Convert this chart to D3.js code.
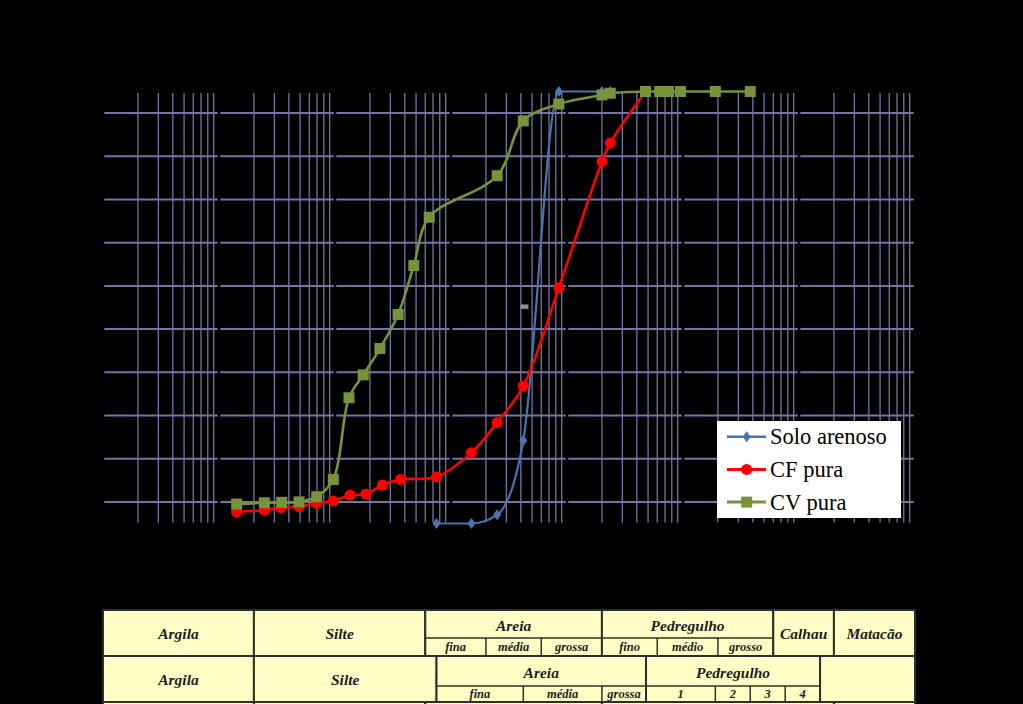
<!DOCTYPE html>
<html>
<head>
<meta charset="utf-8">
<script src="https://cdn.jsdelivr.net/npm/d3@7/dist/d3.min.js"></script>
<style>
  body { margin: 0; background: #000; }
  svg { display: block; }
</style>
</head>
<body>
<div id="chart"></div>
<script>
// ----------- data: grain size (mm) vs percent passing ------------
const soloSizes = [0.075, 0.15, 0.25, 0.42, 0.85, 2.0, 2.36];
const soloPass  = [0, 0, 2.0, 19.2, 100, 100, 100];

const cfSizes = [0.00142, 0.00246, 0.00342, 0.0049, 0.00695, 0.00967, 0.0135, 0.0184, 0.0256, 0.0368,
                 0.075, 0.15, 0.25, 0.42, 0.85, 2.0, 2.36, 4.75];
const cfPass  = [2.7, 3.1, 3.7, 3.9, 4.7, 5.2, 6.6, 6.8, 8.9, 10.2,
                 10.8, 16.4, 23.4, 31.8, 54.6, 83.8, 88.1, 100];

const cvSizes = [0.00142, 0.00246, 0.00347, 0.0049, 0.00695, 0.00967, 0.0132, 0.0175, 0.0244, 0.035, 0.0478, 0.0649,
                 0.25, 0.42, 0.85, 2.0, 2.36, 4.75, 6.3, 7.5, 9.5, 19, 38];
const cvPass  = [4.5, 4.8, 4.9, 5.0, 6.2, 10.2, 29.1, 34.4, 40.5, 48.4, 59.7, 70.9,
                 80.5, 93.2, 97.1, 99.2, 99.6, 100, 100, 100, 100, 100, 100];

const seriesNames = ["Solo arenoso", "CF pura", "CV pura"];

// grid ticks
const decades = [1e-4, 1e-3, 1e-2, 1e-1, 1, 10, 100, 1000];
const minorMult = [2, 3, 4, 5, 6, 7, 8, 9];
const yGrid = [5, 15, 25, 35, 45, 55, 65, 75, 85, 95];

// classification tables (bounds in mm)
const row1Labels = ["Argila", "Silte", "Areia", "Pedregulho", "Calhau", "Matacão"];
const row1Bounds = [0.0001, 0.002, 0.06, 2, 60, 200, 1000];
const areia1Labels = ["fina", "média", "grossa"];
const areia1Bounds = [0.06, 0.2, 0.6, 2];
const pedr1Labels = ["fino", "médio", "grosso"];
const pedr1Bounds = [2, 6, 20, 60];

const row2Labels = ["Argila", "Silte", "Areia", "Pedregulho", ""];
const row2Bounds = [0.0001, 0.002, 0.075, 4.8, 152, 1000];
const areia2Labels = ["fina", "média", "grossa"];
const areia2Bounds = [0.075, 0.42, 2.0, 4.8];
const pedr2Labels = ["1", "2", "3", "4"];
const pedr2Bounds = [4.8, 19, 38, 76, 152];

const row3Bounds = [0.0001, 0.002, 0.06, 2, 200, 1000];

// ----------- setup ------------
const width = 1023;
const height = 704;

const svg = d3.select("#chart")
  .append("svg")
  .attr("width", width)
  .attr("height", height);

svg.append("rect").attr("width", width).attr("height", height).attr("fill", "#000");

const x = d3.scaleLog().domain([1e-4, 1e3]).range([103, 915]);
const y = d3.scaleLinear().domain([0, 100]).range([523.5, 91.5]);

const gridColor = "#7474a8";
const plotTop = 93;
const plotBottom = 522.5;

// horizontal grid
svg.append("g")
  .selectAll("line")
  .data(yGrid)
  .join("line")
  .attr("x1", x(1e-4) + 1)
  .attr("x2", x(1e3))
  .attr("y1", d => y(d))
  .attr("y2", d => y(d))
  .attr("stroke", gridColor)
  .attr("stroke-width", 2);

// minor vertical grid
const minorTicks = [];
decades.slice(0, -1).forEach(dec => minorMult.forEach(m => minorTicks.push(m * dec)));

svg.append("g")
  .selectAll("line")
  .data(minorTicks)
  .join("line")
  .attr("x1", d => x(d))
  .attr("x2", d => x(d))
  .attr("y1", plotTop)
  .attr("y2", plotBottom)
  .attr("stroke", gridColor)
  .attr("stroke-width", 1.3);

// major vertical grid (black, cuts the horizontal lines)
svg.append("g")
  .selectAll("line")
  .data(decades)
  .join("line")
  .attr("x1", d => x(d))
  .attr("x2", d => x(d))
  .attr("y1", plotTop - 3)
  .attr("y2", plotBottom + 3)
  .attr("stroke", "#000")
  .attr("stroke-width", 2.6);

// stray grey mark in the original
svg.append("rect")
  .attr("x", x(0.43) - 4)
  .attr("y", y(50.2) - 2.2)
  .attr("width", 8)
  .attr("height", 4.5)
  .attr("fill", "#8c9090");

// ----------- series ------------
const series = [
  { name: seriesNames[0], sizes: soloSizes, pass: soloPass, color: "#4a74ad", width: 2.2, marker: "diamond",
    curve: d3.curveMonotoneX },
  { name: seriesNames[1], sizes: cfSizes, pass: cfPass, color: "#ff0000", width: 2.6, marker: "circle",
    curve: d3.curveCatmullRom.alpha(0.5) },
  { name: seriesNames[2], sizes: cvSizes, pass: cvPass, color: "#77933c", width: 2.6, marker: "square",
    curve: d3.curveCatmullRom.alpha(0.5) }
];

function drawMarker(g, type, color, cx, cy) {
  if (type === "circle") {
    g.append("circle").attr("cx", cx).attr("cy", cy).attr("r", 5.5).attr("fill", color);
  } else if (type === "square") {
    g.append("rect").attr("x", cx - 5.5).attr("y", cy - 5.5).attr("width", 11).attr("height", 11).attr("fill", color);
  } else {
    g.append("path")
      .attr("d", `M${cx},${cy - 5.5}L${cx + 4},${cy}L${cx},${cy + 5.5}L${cx - 4},${cy}Z`)
      .attr("fill", color);
  }
}

series.forEach(s => {
  const pts = s.sizes.map((d, i) => [d, s.pass[i]]);
  const line = d3.line()
    .x(d => x(d[0]))
    .y(d => y(d[1]))
    .curve(s.curve);
  const g = svg.append("g");
  g.append("path")
    .datum(pts)
    .attr("d", line)
    .attr("fill", "none")
    .attr("stroke", s.color)
    .attr("stroke-width", s.width);
  pts.forEach(p => drawMarker(g, s.marker, s.color, x(p[0]), y(p[1])));
});

// ----------- legend ------------
const legend = svg.append("g").attr("transform", "translate(717,421)");
legend.append("rect").attr("width", 184).attr("height", 97).attr("fill", "#fff");

series.forEach((s, i) => {
  const ly = 15.7 + i * 32.7;
  legend.append("line")
    .attr("x1", 10).attr("x2", 49)
    .attr("y1", ly).attr("y2", ly)
    .attr("stroke", s.color)
    .attr("stroke-width", s.width + 0.4);
  drawMarker(legend, s.marker, s.color, 29.7, ly);
  legend.append("text")
    .attr("x", 53)
    .attr("y", ly + 7.5)
    .attr("font-family", "'Liberation Serif', 'Times New Roman', serif")
    .attr("font-size", 22.5)
    .attr("fill", "#000")
    .text(s.name);
});

// ----------- classification table ------------
const cellFill = "#ffffc6";
const cellStroke = "#2e2e2a";
const tableFont = "'Liberation Serif', 'Times New Roman', serif";
const table = svg.append("g");

function cellText(tx, ty, label, size) {
  table.append("text")
    .attr("x", tx)
    .attr("y", ty)
    .attr("text-anchor", "middle")
    .attr("dominant-baseline", "central")
    .attr("font-family", tableFont)
    .attr("font-style", "italic")
    .attr("font-weight", "bold")
    .attr("font-size", size)
    .attr("fill", "#1c1c1c")
    .text(label);
}

function tableRow(top, mid, bottom, bounds, labels, groups) {
  labels.forEach((lab, i) => {
    const x0 = x(bounds[i]);
    const x1 = x(bounds[i + 1]);
    table.append("rect")
      .attr("x", x0).attr("y", top)
      .attr("width", x1 - x0).attr("height", bottom - top)
      .attr("fill", cellFill)
      .attr("stroke", cellStroke)
      .attr("stroke-width", 2);
    const grp = groups[i];
    if (grp) {
      cellText((x0 + x1) / 2, (top + mid) / 2 + 1, lab, 15.5);
      table.append("line")
        .attr("x1", x0).attr("x2", x1)
        .attr("y1", mid).attr("y2", mid)
        .attr("stroke", cellStroke).attr("stroke-width", 1.5);
      grp.labels.forEach((sub, j) => {
        const s0 = x(grp.bounds[j]);
        const s1 = x(grp.bounds[j + 1]);
        if (j > 0) {
          table.append("line")
            .attr("x1", s0).attr("x2", s0)
            .attr("y1", mid).attr("y2", bottom)
            .attr("stroke", cellStroke).attr("stroke-width", 1.5);
        }
        cellText((s0 + s1) / 2, (mid + bottom) / 2, sub, 12.5);
      });
    } else if (lab) {
      cellText((x0 + x1) / 2, (top + bottom) / 2, lab, 15.5);
    }
  });
}

tableRow(610, 638, 656, row1Bounds, row1Labels, {
  2: { labels: areia1Labels, bounds: areia1Bounds },
  3: { labels: pedr1Labels, bounds: pedr1Bounds }
});
tableRow(656, 686, 702, row2Bounds, row2Labels, {
  2: { labels: areia2Labels, bounds: areia2Bounds },
  3: { labels: pedr2Labels, bounds: pedr2Bounds }
});
tableRow(702, 730, 730, row3Bounds, ["", "", "", "", ""], {});
</script>
</body>
</html>
